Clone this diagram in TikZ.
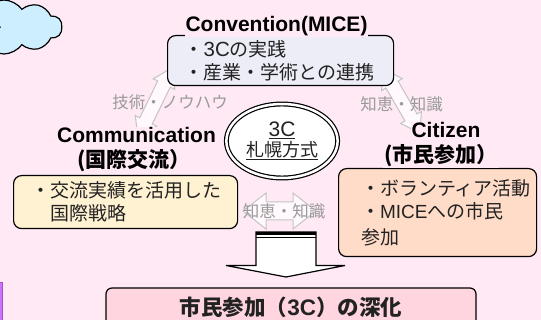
\documentclass[tikz,border=0pt]{standalone}
\usepackage{fontspec}
\setmainfont{Liberation Sans}
\newfontfamily\jp{Noto Sans CJK JP}
\newfontfamily\lat{Liberation Sans}
\usetikzlibrary{shapes.symbols,shapes.geometric}
\definecolor{bg}{HTML}{FFE9F5}
\definecolor{convfill}{HTML}{EDEDF7}
\definecolor{commfill}{HTML}{FFF2D2}
\definecolor{citfill}{HTML}{FFDCC8}
\definecolor{resfill}{HTML}{FFD5E0}
\definecolor{cloudfill}{HTML}{CCEEFF}
\definecolor{purplebar}{HTML}{D070FF}
\definecolor{grayline}{HTML}{C4C4C4}
\definecolor{graytext}{HTML}{9A9A9A}
\definecolor{bodytext}{HTML}{222222}
\tikzset{
  box/.style={draw=black, line width=1.2pt, rounded corners=8pt, align=left,
    text=bodytext, font=\jp\fontsize{19}{23}\selectfont, anchor=north west},
  title/.style={font=\bfseries\fontsize{21}{21}\selectfont, fill=bg, inner sep=1pt, anchor=base},
  jptitle/.style={title, font=\jp\bfseries\fontsize{21}{21}\selectfont},
  graylabel/.style={font=\jp\fontsize{16.5}{16.5}\selectfont, text=graytext, anchor=base},
  grayarrow/.style={draw=grayline, line width=1pt, fill=white!70!bg, line join=miter},
}
% center, angle, half-length, head length, head half-width, shaft half-width
\newcommand{\grayDblArrow}[6]{%
  \begin{scope}[shift={#1}, rotate=#2]
    \draw[grayarrow] (-#3,0) -- ({-#3+#4},#5) -- ({-#3+#4},#6) -- ({#3-#4},#6)
      -- ({#3-#4},#5) -- (#3,0) -- ({#3-#4},-#5) -- ({#3-#4},-#6)
      -- ({-#3+#4},-#6) -- ({-#3+#4},-#5) -- cycle;
  \end{scope}}
\begin{document}
\begin{tikzpicture}[x=1pt,y=-1pt]
\useasboundingbox (0,0) rectangle (541,320);
\fill[bg] (0,0) rectangle (541,320);

% cloud (cut off at the left)
\node[cloud, cloud puffs=10, cloud puff arc=110, cloud ignores aspect, draw=black,
  line width=1.2pt, fill=cloudfill, minimum width=116pt, minimum height=54pt, inner sep=0] (memo) at (4,27) {};
\node[font=\jp\fontsize{17}{17}\selectfont, text=bodytext] (memotext) at (-7,29) {計};

% purple edge at left
\draw[fill=purplebar, draw=purplebar!75!black, line width=0.6pt] (-5,282) rectangle (2.3,330);

% gray double arrows (drawn first, partly hidden)
\grayDblArrow{(155,102.5)}{64}{38.5}{18}{12}{7}
\grayDblArrow{(401.5,101)}{-60}{37}{18}{12}{7}
\grayDblArrow{(279.5,211)}{0}{36.5}{23}{18}{9}

% boxes
\node[box, fill=convfill, text width=192pt, inner xsep=17pt, minimum height=50pt] (conv) at (167,35)
  {・{\lat\fontsize{20.5}{23}\selectfont 3C}の実践\\・産業・学術との連携};
\node[box, fill=commfill, text width=188pt, inner xsep=18pt, minimum height=53pt] (comm) at (13,175)
  {・交流実績を活用した\\\phantom{・}国際戦略};
\node[box, fill=citfill, text width=153pt, inner xsep=22.5pt, minimum height=88pt] (cit) at (338,168)
  {・ボランティア活動\\・{\lat MICE}への市民\\[3pt]参加};

% centre ellipse
\node[ellipse, draw=black, double, double distance=2.5pt, line width=1.2pt, fill=white,
  minimum width=106pt, minimum height=74pt, align=center, text=bodytext,
  font=\jp\fontsize{18}{20}\selectfont] (core) at (282,141)
  {\underline{\lat\fontsize{21}{20}\selectfont 3C}\\\underline{札幌方式}};

% titles
\node[title] (convtitle) at (276.5,32) {Convention(MICE)};
\node[title] (commtitle) at (136.5,143) {Communication};
\node[jptitle] (commjp) at (134,167.5) {(国際交流）};
\node[title] (cittitle) at (446,138) {Citizen};
\node[jptitle] (citjp) at (441,162.5) {(市民参加）};

% gray labels
\node[graylabel] (lblL) at (170,109) {技術・ノウハウ};
\node[graylabel] (lblR) at (401.5,111) {知恵・知識};
\node[graylabel] (lblB) at (284,218) {知恵・知識};

% big down arrow
\draw[fill=white, draw=black, line width=1.2pt, line join=miter]
  (256,232) -- (316,232) -- (316,265.5) -- (345,265.5) -- (286,277) -- (226,265.5) -- (256,265.5) -- cycle;
\fill[black] (256,232) rectangle (316,235.5);
\draw[line width=1pt] (256,237.8) -- (316,237.8);

% result box (runs past the lower edge)
\node[draw=black, line width=1.2pt, rounded corners=6pt, fill=resfill, minimum width=370pt,
  minimum height=39pt, text=bodytext, font=\jp\bfseries\fontsize{21.5}{21.5}\selectfont] (result) at (291,307.5)
  {市民参加（{\lat\bfseries\fontsize{22.5}{21.5}\selectfont 3C}）の深化};
\end{tikzpicture}
\end{document}
